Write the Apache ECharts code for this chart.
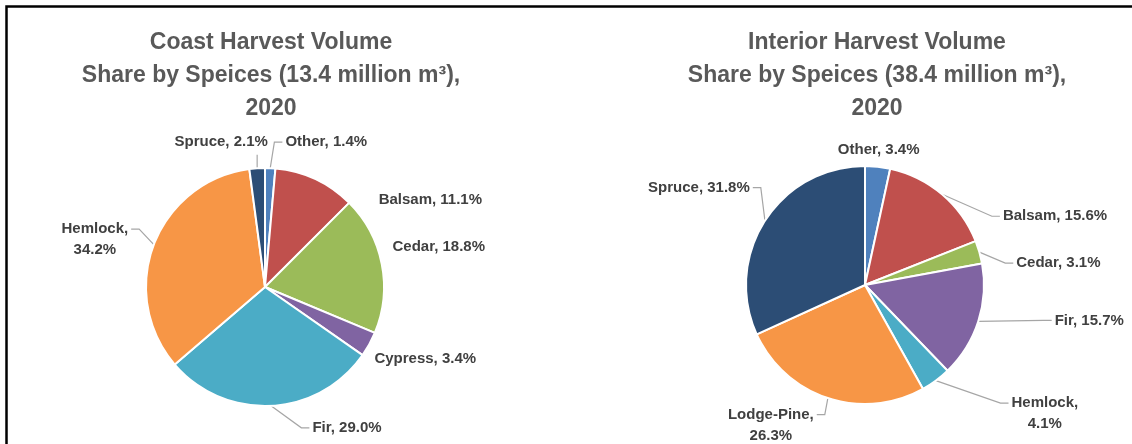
<!DOCTYPE html>
<html>
<head>
<meta charset="utf-8">
<script src="https://cdn.jsdelivr.net/npm/echarts@6/dist/echarts.min.js"></script>
<style>
  html, body { margin: 0; padding: 0; background: #fff; }
  #chart { width: 1132px; height: 444px; }
</style>
</head>
<body>
<div id="chart"></div>
<script>
var chart = echarts.init(document.getElementById('chart'));

var coastSpecies = ['Other', 'Balsam', 'Cedar', 'Cypress', 'Fir', 'Hemlock', 'Spruce'];
var coastShare = [1.4, 11.1, 18.8, 3.4, 29.0, 34.2, 2.1];

var interiorSpecies = ['Other', 'Balsam', 'Cedar', 'Fir', 'Hemlock', 'Lodge-Pine', 'Spruce'];
var interiorShare = [3.4, 15.6, 3.1, 15.7, 4.1, 26.3, 31.8];

var coastTitle = 'Coast Harvest Volume\nShare by Speices (13.4 million m³),\n2020';
var interiorTitle = 'Interior Harvest Volume\nShare by Speices (38.4 million m³),\n2020';

var colors = ['#4F81BD', '#C0504D', '#9BBB59', '#8064A2', '#4BACC6', '#F79646', '#2C4D75'];
var font = "'Liberation Sans', Arial, sans-serif";

// label placement: offset of the label centre from the slice's mid-arc point
var coastLabelShift = [[56, -26], [115, 21], [57, -17], [56, 15], [76, 22], [-59, -5], [-36, -26]];
var interiorLabelShift = [[1, -17], [113, 22], [79, 11], [111, -1], [109, 33], [-57, 27], [-66, -33]];
// labels wrapped on two lines, and labels drawn with a leader line
var coastWrap = ['Hemlock'];
var interiorWrap = ['Hemlock', 'Lodge-Pine'];
var coastLeader = ['Other', 'Fir', 'Hemlock', 'Spruce'];
var interiorLeader = ['Balsam', 'Cedar', 'Fir', 'Hemlock', 'Lodge-Pine', 'Spruce'];

var LINE_H = 21;

function toData(names, values) {
    return names.map(function (n, i) {
        return { name: n, value: values[i], itemStyle: { color: colors[i % colors.length] } };
    });
}

function labelText(wrapList) {
    return function (p) {
        var v = p.value.toFixed(1) + '%';
        if (wrapList.indexOf(p.name) >= 0) {
            return p.name + ',\n' + v;
        }
        return p.name + ', ' + v;
    };
}

function labelLayoutFor(names, shifts, leaders) {
    return function (params) {
        var pts = params.labelLinePoints;
        var rect = params.labelRect;
        var s = shifts[params.dataIndex];
        var p0 = pts[0];
        var cx = p0[0] + s[0];
        var cy = p0[1] + s[1];
        var w = rect.width, h = rect.height;
        var left = cx - w / 2, right = cx + w / 2, top = cy - h / 2, bottom = cy + h / 2;
        var line = [p0, p0, p0];
        if (leaders.indexOf(names[params.dataIndex]) >= 0) {
            var ay = h > LINE_H + 4 ? top + LINE_H / 2 : cy;
            var end, elbow;
            if (p0[0] < left) {
                end = [left - 3, ay];
                elbow = [Math.max(p0[0], left - 11), ay];
            } else if (p0[0] > right) {
                end = [right + 3, ay];
                elbow = [Math.min(p0[0], right + 11), ay];
            } else {
                end = [p0[0], p0[1] < top ? top - 2 : bottom + 2];
                elbow = end;
            }
            line = [p0, elbow, end];
        }
        return {
            x: cx,
            y: cy,
            align: 'center',
            verticalAlign: 'middle',
            hideOverlap: false,
            moveOverlap: null,
            labelLinePoints: line
        };
    };
}

function pieSeries(center, names, values, wrapList, shifts, leaders) {
    return {
        type: 'pie',
        center: center,
        radius: 119,
        startAngle: 90,
        clockwise: true,
        avoidLabelOverlap: false,
        data: toData(names, values),
        itemStyle: { borderColor: '#fff', borderWidth: 2 },
        label: {
            position: 'outside',
            formatter: labelText(wrapList),
            color: '#404040',
            fontSize: 15,
            fontWeight: 'bold',
            fontFamily: font,
            lineHeight: LINE_H,
            align: 'center'
        },
        labelLine: {
            show: true,
            length: 12,
            length2: 8,
            lineStyle: { color: '#a6a6a6', width: 1.2 }
        },
        labelLayout: labelLayoutFor(names, shifts, leaders),
        emphasis: { disabled: true }
    };
}

var titleStyle = { fontSize: 23, fontWeight: 'bold', color: '#595959', lineHeight: 33, fontFamily: font };

var option = {
    backgroundColor: '#fff',
    animation: false,
    title: [{
        text: coastTitle,
        left: 266,
        top: 21,
        textAlign: 'center',
        textStyle: titleStyle
    }, {
        text: interiorTitle,
        left: 872,
        top: 21,
        textAlign: 'center',
        textStyle: titleStyle
    }],
    graphic: [{
        type: 'rect',
        shape: { x: 6.5, y: 6.5, width: 1200, height: 500 },
        style: { fill: 'none', stroke: '#000', lineWidth: 2.5 }
    }],
    series: [
        pieSeries([265, 287], coastSpecies, coastShare, coastWrap, coastLabelShift, coastLeader),
        pieSeries([865, 285], interiorSpecies, interiorShare, interiorWrap, interiorLabelShift, interiorLeader)
    ]
};

chart.setOption(option);
</script>
</body>
</html>
